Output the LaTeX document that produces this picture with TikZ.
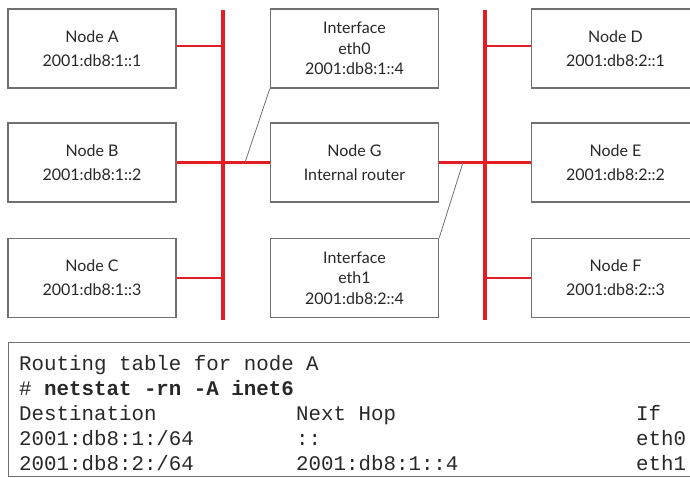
\documentclass[tikz,border=0pt]{standalone}
\usepackage{fontspec}
\setmainfont{Lato}
\setmonofont{Liberation Mono}
\definecolor{busred}{RGB}{228,28,36}
\definecolor{boxgray}{RGB}{112,112,112}
\definecolor{txt}{RGB}{40,40,40}
\begin{document}
\begin{tikzpicture}[x=1pt,y=-1pt,
  hostbox/.style={draw=boxgray,line width=1.4pt,fill=white,minimum width=168pt,minimum height=79pt,inner sep=0pt,align=center,font=\fontsize{16}{24}\selectfont,text=txt},
  ifbox/.style={hostbox,font=\fontsize{16}{20.5}\selectfont},
  bus/.style={draw=busred,line width=4pt},
  stub/.style={draw=busred,line width=2.5pt},
  thin/.style={draw=boxgray,line width=0.8pt},
  mono/.style={anchor=base west,inner sep=0pt,font=\fontsize{20.8}{25}\ttfamily,text=txt}]
\useasboundingbox (0,0) rectangle (690,477);
% buses
\coordinate (L1) at (223,10); \coordinate (L2) at (223,320);
\coordinate (R1) at (485,10); \coordinate (R2) at (485,320);
% boxes
\node[hostbox] (A) at (92,48.5) {Node A\\2001:db8:1::1};
\node[hostbox] (B) at (92,162.5) {Node B\\2001:db8:1::2};
\node[hostbox] (C) at (92,278) {Node C\\2001:db8:1::3};
\node[ifbox] (I0) at (354.5,48.5) {Interface\\eth0\\2001:db8:1::4};
\node[hostbox] (G) at (354.5,162.5) {Node G\\Internal router};
\node[ifbox] (I1) at (354.5,278) {Interface\\eth1\\2001:db8:2::4};
\node[hostbox] (D) at (615.5,48.5) {Node D\\2001:db8:2::1};
\node[hostbox] (E) at (615.5,162.5) {Node E\\2001:db8:2::2};
\node[hostbox] (F) at (615.5,278) {Node F\\2001:db8:2::3};
% red network
\draw[bus] (L1) -- (L2);
\draw[bus] (R1) -- (R2);
\draw[stub] (A.east |- 0,46) coordinate (a1) -- (a1 -| L1);
\draw[stub] (B.east) -- (G.west);
\draw[stub] (C.east) -- (C.east -| L1);
\draw[stub] (D.west |- 0,46) coordinate (d1) -- (d1 -| R1);
\draw[stub] (G.east) -- (E.west);
\draw[stub] (F.west) -- (F.west -| R1);
% interface pointers
\coordinate (p0) at (245,162.5);
\coordinate (p1) at (463,162.5);
\draw[thin] (I0.south west) -- (p0);
\draw[thin] (I1.north east) -- (p1);
% routing table
\node[draw=boxgray,line width=1.4pt,minimum width=700pt,minimum height=134pt,anchor=north west,inner sep=0pt] (T) at (8,342) {};
\node[mono] (t1) at (19,370) {Routing table for node A};
\node[mono] (t2) at (19,395) {\# \textbf{netstat -rn -A inet6}};
\node[mono] (t3) at (19,420) {Destination};
\node[mono] (t4) at (296,420) {Next Hop};
\node[mono] (t5) at (636,420) {If};
\node[mono] (t6) at (19,445) {2001:db8:1:/64};
\node[mono] (t7) at (296,445) {::};
\node[mono] (t8) at (636,445) {eth0};
\node[mono] (t9) at (19,470) {2001:db8:2:/64};
\node[mono] (t10) at (296,470) {2001:db8:1::4};
\node[mono] (t11) at (636,470) {eth1};
\end{tikzpicture}
\end{document}
